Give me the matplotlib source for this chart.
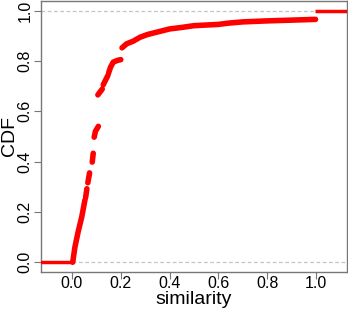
import numpy as np
import matplotlib
matplotlib.use("Agg")
import matplotlib.pyplot as plt

plt.rcParams['font.family'] = ['Liberation Sans', 'DejaVu Sans']

nan = np.nan
# CDF of similarity (gaps where the points thin out)
cdf_x = [0.003, 0.012, 0.025, 0.040, 0.053, nan,
         0.056, 0.061, nan,
         0.065, 0.072, nan,
         0.083, 0.087, nan,
         0.091, 0.096, 0.108, nan,
         0.106, 0.124, nan,
         0.128, 0.147, nan,
         0.150, 0.158, 0.169, 0.186, 0.200, nan,
         0.205, 0.224, 0.250, 0.279, 0.310, 0.347, 0.400, 0.450, 0.500,
         0.600, 0.640, 0.700, 0.800, 0.900, 0.998]
cdf_y = [0.000, 0.060, 0.120, 0.180, 0.247, nan,
         0.258, 0.292, nan,
         0.316, 0.355, nan,
         0.398, 0.433, nan,
         0.497, 0.520, 0.540, nan,
         0.665, 0.688, nan,
         0.705, 0.742, nan,
         0.752, 0.775, 0.795, 0.802, 0.805, nan,
         0.852, 0.868, 0.878, 0.894, 0.905, 0.914, 0.927, 0.933, 0.940,
         0.945, 0.950, 0.955, 0.959, 0.962, 0.965]

# flat parts of the step function
low_x = [-0.2, 0.003]
low_y = [0.0, 0.0]
high_x = [0.996, 1.2]
high_y = [1.0, 1.0]

xticks = [0.0, 0.2, 0.4, 0.6, 0.8, 1.0]
yticks = [0.0, 0.2, 0.4, 0.6, 0.8, 1.0]

fig = plt.figure(figsize=(3.48, 3.10), dpi=100)
ax = fig.add_axes([41 / 348, 37.7 / 310, 306 / 348, 271.8 / 310])

for ref in (0.0, 1.0):
    ax.axhline(ref, color='#c4c4c4', lw=0.9, dashes=(3, 2), zorder=1)

ax.plot(low_x, low_y, color='#ff0000', lw=2.5, solid_capstyle='butt', zorder=3)
ax.plot(high_x, high_y, color='#ff0000', lw=2.5, solid_capstyle='butt', zorder=3)
ax.plot(cdf_x, cdf_y, color='#ff0000', lw=4, solid_capstyle='round',
        solid_joinstyle='round', zorder=3)

ax.set_xlim(-0.127, 1.127)
ax.set_ylim(-0.04, 1.04)
ax.set_xticks(xticks)
ax.set_yticks(yticks)
ax.set_xticklabels([f"{t:.1f}" for t in xticks])
ax.set_yticklabels([f"{t:.1f}" for t in yticks], rotation=90, va='center')

for s in ax.spines.values():
    s.set_color('#777777')
    s.set_linewidth(1.0)

ax.tick_params(axis='both', direction='out', length=4.8, width=0.8,
               color='#777777', labelsize=11.5, labelcolor='black')
ax.tick_params(axis='x', pad=-1.8)
ax.tick_params(axis='y', pad=1.2)

ax.set_xlabel("similarity", fontsize=14, labelpad=0)
ax.set_ylabel("CDF", fontsize=14)
ax.yaxis.set_label_coords(-0.075, 0.5)

fig.savefig("out.png", dpi=100)
